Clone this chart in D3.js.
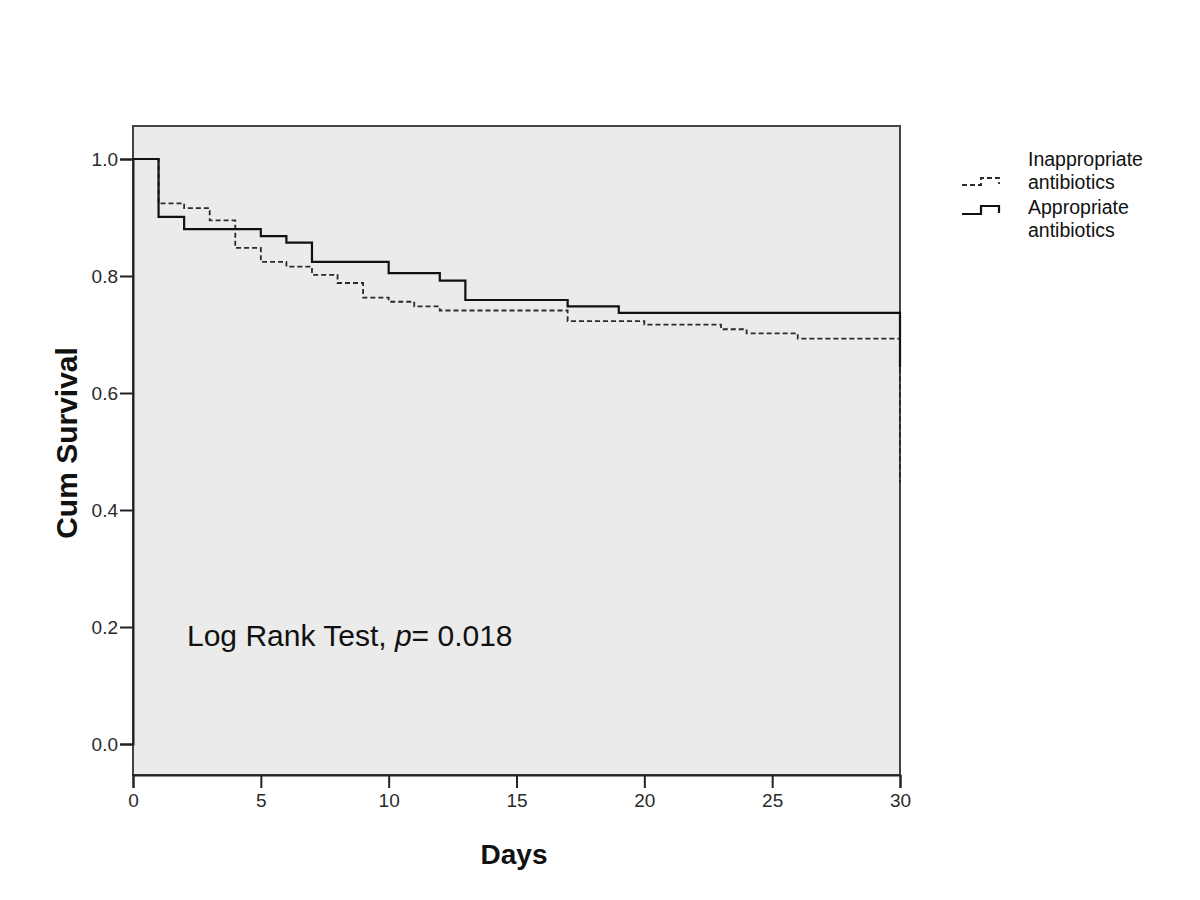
<!DOCTYPE html>
<html>
<head>
<meta charset="utf-8">
<script src="https://cdn.jsdelivr.net/npm/d3@7"></script>
<style>
  html, body { margin: 0; padding: 0; background: #fff; }
  svg { display: block; font-family: "Liberation Sans", Arial, sans-serif; }
</style>
</head>
<body>
<svg id="chart" width="1200" height="900"></svg>
<script>
// ---- data ----
const appropriateDays  = [0, 1, 2, 5, 6, 7, 10, 12, 13, 17, 19, 30];
const appropriateSurv  = [1.0, 0.901, 0.880, 0.868, 0.857, 0.824, 0.805, 0.792, 0.759, 0.748, 0.737, 0.644];
const inappropriateDays = [0, 1, 2, 3, 4, 5, 6, 7, 8, 9, 10, 11, 12, 17, 20, 23, 24, 26, 30];
const inappropriateSurv = [1.0, 0.924, 0.916, 0.895, 0.848, 0.824, 0.816, 0.802, 0.788, 0.763, 0.756, 0.748, 0.741, 0.723, 0.717, 0.709, 0.702, 0.693, 0.446];
const xTicks = [0, 5, 10, 15, 20, 25, 30];
const yTicks = [0.0, 0.2, 0.4, 0.6, 0.8, 1.0];
const legendLabels = [["Inappropriate", "antibiotics"], ["Appropriate", "antibiotics"]];
const xTitle = "Days";
const yTitle = "Cum Survival";

// ---- layout ----
const svg = d3.select("#chart");
const L = 133, R = 900, T = 126, B = 775;
const x = d3.scaleLinear().domain([0, 30]).range([L, R]);
const y = d3.scaleLinear().domain([0, 1]).range([744, 159]);

// plot background + frame
svg.append("rect").attr("x", L).attr("y", T).attr("width", R - L).attr("height", B - T)
  .attr("fill", "#ebebeb").attr("stroke", "#444").attr("stroke-width", 2);

// axes
const yAxis = svg.append("g").attr("transform", `translate(${L},0)`)
  .call(d3.axisLeft(y).tickValues(yTicks).tickFormat(d3.format(".1f")).tickSize(13).tickPadding(2));
const xAxis = svg.append("g").attr("transform", `translate(0,${B})`)
  .call(d3.axisBottom(x).tickValues(xTicks).tickFormat(d3.format("d")).tickSize(13).tickPadding(6));
[yAxis, xAxis].forEach(g => {
  g.select(".domain").attr("stroke", "#222").attr("stroke-width", 2);
  g.selectAll(".tick line").attr("stroke", "#222").attr("stroke-width", 2);
  g.selectAll(".tick text").attr("fill", "#2a2a2a").style("font-size", "19px")
    .style("font-family", "'Liberation Sans', Arial, sans-serif");
});

// curves
const line = d3.line().x(d => x(d[0])).y(d => y(d[1])).curve(d3.curveStepAfter);
const inapp = inappropriateDays.map((d, i) => [d, inappropriateSurv[i]]);
const app = appropriateDays.map((d, i) => [d, appropriateSurv[i]]);

svg.append("path").datum(inapp).attr("d", line).attr("fill", "none")
  .attr("stroke", "#2a2a2a").attr("stroke-width", 1.8).attr("stroke-dasharray", "5,3");
svg.append("path").datum(app).attr("d", line).attr("fill", "none")
  .attr("stroke", "#111").attr("stroke-width", 2.2);

// annotation
const ann = svg.append("text").attr("x", 187).attr("y", 646)
  .style("font-size", "30px").attr("fill", "#111");
ann.append("tspan").text("Log Rank Test, ");
ann.append("tspan").style("font-style", "italic").text("p");
ann.append("tspan").text("= 0.018");

// axis titles
svg.append("text").attr("x", 514).attr("y", 864).attr("text-anchor", "middle")
  .style("font-size", "28px").style("font-weight", "bold").attr("fill", "#111").text(xTitle);
svg.append("text").attr("transform", "translate(77,443) rotate(-90)").attr("text-anchor", "middle")
  .style("font-size", "30px").style("font-weight", "bold").attr("fill", "#111").text(yTitle);

// legend
const leg = svg.append("g");
const symY = [[185, 178], [214, 206]];
legendLabels.forEach((lbl, i) => {
  const [lo, hi] = symY[i];
  const p = d3.path();
  p.moveTo(962, lo); p.lineTo(981, lo); p.lineTo(981, hi); p.lineTo(999, hi); p.lineTo(999, lo - 1);
  leg.append("path").attr("d", p.toString()).attr("fill", "none")
    .attr("stroke", i === 0 ? "#2a2a2a" : "#111")
    .attr("stroke-width", i === 0 ? 1.8 : 2.2)
    .attr("stroke-dasharray", i === 0 ? "5,3" : null);
  const baseY = i === 0 ? 166 : 214;
  lbl.forEach((t, j) => {
    leg.append("text").attr("x", 1028).attr("y", baseY + j * 23)
      .style("font-size", "19.5px").attr("fill", "#111").text(t);
  });
});
</script>
</body>
</html>
